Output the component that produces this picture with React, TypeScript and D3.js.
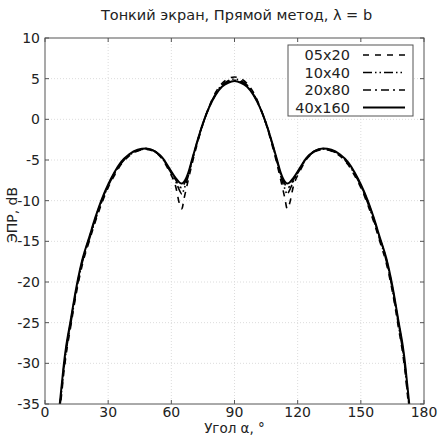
import React from "react";
import * as d3 from "d3";

const angles = [7, 8, 9, 10, 12, 15, 18, 21, 24, 27, 30, 33, 36, 40, 44, 48, 52, 56, 59, 62, 64, 65, 66, 68, 70, 72, 75, 78, 81, 84, 87, 90,
  93, 96, 99, 102, 105, 108, 110, 112, 114, 115, 116, 118, 121, 124, 128, 132, 136, 140, 144, 147, 150, 153, 156, 159, 162, 165, 168, 170, 171, 172, 173];

const s05x20 = [-36, -33.5, -31, -29, -25.8, -21.2, -17.6, -15, -12.5, -10.3, -8.4, -6.9, -5.6, -4.5, -3.9, -3.7, -4.0, -5.0, -6.4, -8.2, -10.5, -11.0, -9.8, -7.5, -5.3, -3.3, -0.6, 1.6, 3.3, 4.4, 5.0, 5.2,
  5.0, 4.4, 3.3, 1.6, -0.6, -3.3, -5.3, -7.5, -9.8, -11.0, -10.5, -8.2, -6.4, -5.0, -4.0, -3.7, -3.9, -4.5, -5.6, -6.9, -8.4, -10.3, -12.5, -15, -17.6, -21.2, -25.8, -29, -31, -33.5, -36];

const s10x40 = [-35.6, -33.1, -30.6, -28.6, -25.5, -20.9, -17.3, -14.8, -12.3, -10.1, -8.2, -6.7, -5.5, -4.4, -3.85, -3.65, -3.95, -4.9, -6.2, -7.6, -8.8, -9.2, -8.6, -7.0, -5.0, -3.1, -0.55, 1.55, 3.15, 4.2, 4.75, 4.95,
  4.75, 4.2, 3.15, 1.55, -0.55, -3.1, -5.0, -7.0, -8.6, -9.2, -8.8, -7.6, -6.2, -4.9, -3.95, -3.65, -3.85, -4.4, -5.5, -6.7, -8.2, -10.1, -12.3, -14.8, -17.3, -20.9, -25.5, -28.6, -30.6, -33.1, -35.6];

const s20x80 = [-35.3, -32.8, -30.3, -28.3, -25.2, -20.7, -17.1, -14.6, -12.1, -9.9, -8.1, -6.6, -5.4, -4.35, -3.8, -3.6, -3.9, -4.85, -6.1, -7.4, -8.3, -8.4, -8.0, -6.8, -4.9, -3.0, -0.5, 1.5, 3.05, 4.1, 4.6, 4.8,
  4.6, 4.1, 3.05, 1.5, -0.5, -3.0, -4.9, -6.8, -8.0, -8.4, -8.3, -7.4, -6.1, -4.85, -3.9, -3.6, -3.8, -4.35, -5.4, -6.6, -8.1, -9.9, -12.1, -14.6, -17.1, -20.7, -25.2, -28.3, -30.3, -32.8, -35.3];

const s40x160 = [-35, -32.5, -30, -28, -25, -20.5, -17, -14.5, -12, -9.8, -8, -6.5, -5.3, -4.3, -3.75, -3.6, -3.9, -4.8, -6, -7.2, -7.8, -7.9, -7.7, -6.6, -4.8, -3, -0.5, 1.5, 3.0, 4.0, 4.5, 4.7,
  4.5, 4.0, 3.0, 1.5, -0.5, -3, -4.8, -6.6, -7.7, -7.9, -7.8, -7.2, -6, -4.8, -3.9, -3.6, -3.75, -4.3, -5.3, -6.5, -8, -9.8, -12, -14.5, -17, -20.5, -25, -28, -30, -32.5, -35];

const seriesNames = ["05x20", "10x40", "20x80", "40x160"];
const seriesValues = [s05x20, s10x40, s20x80, s40x160];
const dashes = ["6,6", "9,3,1.5,3,1.5,3", "8,4,2,4", ""];
const widths = [1.6, 1.6, 1.6, 2];

const xTicks = [0, 30, 60, 90, 120, 150, 180];
const yTicks = [10, 5, 0, -5, -10, -15, -20, -25, -30, -35];

const title = "Тонкий экран, Прямой метод, λ = b";
const xLabel = "Угол α, °";
const yLabel = "ЭПР, dB";

export default function App() {
  const W = 440, H = 435;
  const L = 45, R = 424, T = 38, B = 404;
  const x = d3.scaleLinear().domain([0, 180]).range([L, R]);
  const y = d3.scaleLinear().domain([-35, 10]).range([B, T]);
  const line = d3.line<[number, number]>().x(d => x(d[0])).y(d => y(d[1])).curve(d3.curveMonotoneX);
  const font = "DejaVu Sans, sans-serif";
  const axisColor = "#555";
  const legX = 288, legY = 45, legW = 125, legH = 71;
  return (
    <svg width={W} height={H} style={{ position: "absolute", left: 0, top: 0 }} fontFamily={font}>
      <rect x={0} y={0} width={W} height={H} fill="white" />
      <defs>
        <clipPath id="plotclip"><rect x={L} y={T} width={R - L} height={B - T} /></clipPath>
      </defs>
      {xTicks.slice(1, -1).map(t => (
        <line key={"gx" + t} x1={x(t)} x2={x(t)} y1={T} y2={B} stroke="#dcdcdc" strokeWidth={1} strokeDasharray="1,2" />
      ))}
      {yTicks.slice(1, -1).map(t => (
        <line key={"gy" + t} x1={L} x2={R} y1={y(t)} y2={y(t)} stroke="#dcdcdc" strokeWidth={1} strokeDasharray="1,2" />
      ))}
      <g clipPath="url(#plotclip)">
        {seriesValues.map((vals, i) => (
          <path key={i} d={line(angles.map((a, j) => [a, vals[j]]) as [number, number][]) || ""}
            fill="none" stroke="black" strokeWidth={widths[i]} strokeDasharray={dashes[i]} />
        ))}
      </g>
      <rect x={L} y={T} width={R - L} height={B - T} fill="none" stroke={axisColor} strokeWidth={1} />
      {xTicks.map(t => (
        <g key={"tx" + t}>
          <line x1={x(t)} x2={x(t)} y1={B} y2={B - 4} stroke={axisColor} />
          <line x1={x(t)} x2={x(t)} y1={T} y2={T + 4} stroke={axisColor} />
          <text x={x(t)} y={B + 13} fontSize={14} textAnchor="middle" fill="#222">{t}</text>
        </g>
      ))}
      {yTicks.map(t => (
        <g key={"ty" + t}>
          <line x1={L} x2={L + 4} y1={y(t)} y2={y(t)} stroke={axisColor} />
          <line x1={R} x2={R - 4} y1={y(t)} y2={y(t)} stroke={axisColor} />
          <text x={L - 5} y={y(t) + 5} fontSize={14} textAnchor="end" fill="#222">{t}</text>
        </g>
      ))}
      <text x={(L + R) / 2 + 2} y={20} fontSize={14.5} textAnchor="middle" fill="#222">{title}</text>
      <text x={(L + R) / 2} y={433} fontSize={13.5} textAnchor="middle" fill="#222">{xLabel}</text>
      <text transform={`translate(17,${(T + B) / 2 - 6}) rotate(-90)`} fontSize={14} textAnchor="middle" fill="#222">{yLabel}</text>
      <rect x={legX} y={legY} width={legW} height={legH} fill="white" stroke={axisColor} strokeWidth={1} />
      {seriesNames.map((n, i) => {
        const cy = legY + 10 + i * 17.5;
        return (
          <g key={n}>
            <text x={legX + 62} y={cy + 5} fontSize={14.5} textAnchor="end" fill="#222">{n}</text>
            <line x1={legX + 75} x2={legX + 117} y1={cy} y2={cy} stroke="black" strokeWidth={widths[i]} strokeDasharray={dashes[i]} />
          </g>
        );
      })}
    </svg>
  );
}
